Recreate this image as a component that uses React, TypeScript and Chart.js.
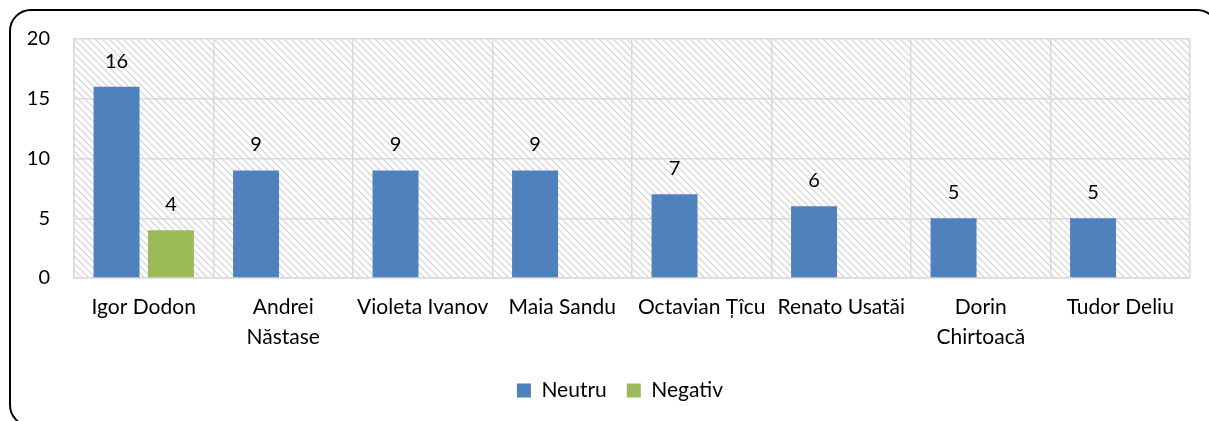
import React, { useEffect, useRef } from "react";
import { Chart, registerables } from "chart.js";

Chart.register(...registerables);

const categories: (string | string[])[] = [
  "Igor Dodon",
  ["Andrei", "Năstase"],
  "Violeta Ivanov",
  "Maia Sandu",
  "Octavian Țîcu",
  "Renato Usatăi",
  ["Dorin", "Chirtoacă"],
  "Tudor Deliu",
];
const neutruValues = [16, 9, 9, 9, 7, 6, 5, 5];
const negativValues = [4, 0, 0, 0, 0, 0, 0, 0];
const yTicks = [0, 5, 10, 15, 20];

const FONT = "Lato, 'Open Sans', sans-serif";

function makePattern(ctx: CanvasRenderingContext2D) {
  const n = 7;
  const c = document.createElement("canvas");
  c.width = n;
  c.height = n;
  const p = c.getContext("2d")!;
  p.fillStyle = "#ffffff";
  p.fillRect(0, 0, n, n);
  p.strokeStyle = "#d2d2d2";
  p.lineWidth = 1.2;
  p.beginPath();
  for (const off of [-n, 0, n]) {
    p.moveTo(off - 1, -1);
    p.lineTo(off + n + 1, n + 1);
  }
  p.stroke();
  return ctx.createPattern(c, "repeat");
}

export default function App() {
  const ref = useRef<HTMLCanvasElement>(null);
  useEffect(() => {
    const canvas = ref.current!;
    const bgPlugin = {
      id: "hatchBg",
      afterLayout(chart: any) {
        const lg = chart.legend;
        if (lg) {
          lg.left += 15;
          lg.right += 15;
        }
      },
      beforeDraw(chart: any) {
        const { ctx, chartArea } = chart;
        const pat = makePattern(ctx);
        ctx.save();
        ctx.fillStyle = pat as any;
        ctx.fillRect(chartArea.left, chartArea.top, chartArea.right - chartArea.left, chartArea.bottom - chartArea.top);
        ctx.restore();
      },
    };
    const labelPlugin = {
      id: "valueLabels",
      afterDatasetsDraw(chart: any) {
        const { ctx } = chart;
        ctx.save();
        ctx.fillStyle = "#000";
        ctx.font = `20px ${FONT}`;
        ctx.textAlign = "center";
        ctx.textBaseline = "alphabetic";
        chart.data.datasets.forEach((ds: any, di: number) => {
          const meta = chart.getDatasetMeta(di);
          meta.data.forEach((bar: any, i: number) => {
            const v = ds.data[i];
            if (!v) return;
            ctx.fillText(String(v), bar.x, bar.y - 19);
          });
        });
        ctx.restore();
      },
    };
    const chart = new Chart(canvas, {
      type: "bar",
      data: {
        labels: categories as any,
        datasets: [
          {
            label: "Neutru",
            data: neutruValues,
            backgroundColor: "#4F81BD",
            categoryPercentage: 0.78,
            barPercentage: 0.845,
          },
          {
            label: "Negativ",
            data: negativValues,
            backgroundColor: "#9BBB59",
            categoryPercentage: 0.78,
            barPercentage: 0.845,
          },
        ],
      },
      options: {
        responsive: false,
        animation: false,
        maintainAspectRatio: false,
        layout: { padding: { left: 20, right: 19, top: 39, bottom: 10 } },
        plugins: {
          tooltip: { enabled: false },
          legend: {
            position: "bottom",
            labels: {
              color: "#000",
              font: { family: FONT, size: 21 },
              boxWidth: 14,
              boxHeight: 14,
              padding: 20,
            },
          },
        },
        scales: {
          x: {
            grid: { color: "#d9d9d9", lineWidth: 1.5, drawTicks: false, offset: true },
            border: { color: "#d9d9d9", width: 1.5 },
            ticks: {
              color: "#000",
              font: { family: FONT, size: 21, lineHeight: 1.43 },
              padding: 14,
              maxRotation: 0,
              autoSkip: false,
            },
            afterFit: (s: any) => {
              s.height = 82;
            },
          },
          y: {
            min: 0,
            max: 20,
            afterBuildTicks: (s: any) => {
              s.ticks = yTicks.map((v) => ({ value: v }));
            },
            grid: { color: "#d9d9d9", lineWidth: 1.5, drawTicks: false },
            border: { color: "#d9d9d9", width: 1.5 },
            ticks: {
              color: "#000",
              font: { family: FONT, size: 20 },
              padding: 24,
            },
            afterFit: (s: any) => {
              s.width = 54;
            },
          },
        },
      },
      plugins: [bgPlugin, labelPlugin],
    } as any);
    return () => chart.destroy();
  }, []);
  return (
    <div style={{ position: "fixed", left: 0, top: 0, width: 1209, height: 421, background: "#fff", overflow: "hidden" }}>
      <canvas ref={ref} width={1209} height={421} style={{ position: "absolute", left: 0, top: 0 }} />
      <div
        style={{
          position: "absolute",
          left: 9,
          top: 9,
          width: 1210,
          height: 418,
          boxSizing: "border-box",
          border: "2px solid #000",
          borderRadius: 22,
          pointerEvents: "none",
        }}
      />
    </div>
  );
}
